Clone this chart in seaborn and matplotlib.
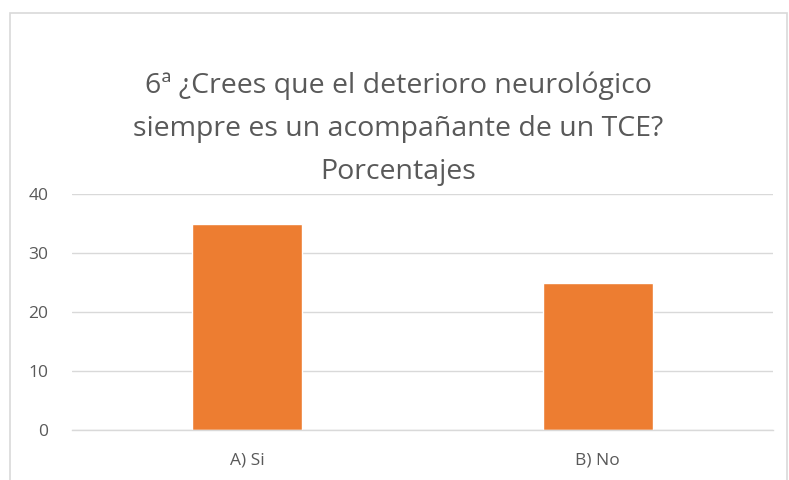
import matplotlib
matplotlib.use("Agg")
import matplotlib.pyplot as plt
import seaborn as sns
import pandas as pd
from matplotlib.patches import Rectangle

# Data
categories = ["A) Si", "B) No"]
values = [35, 25]
title_lines = [
    "6ª ¿Crees que el deterioro neurológico",
    "siempre es un acompañante de un TCE?",
    "Porcentajes",
]

sns.set_style("white")
plt.rcParams["font.family"] = ["Open Sans", "DejaVu Sans"]

text_color = "#595959"
grid_color = "#D9D9D9"
bar_color = "#ED7D31"

W, H = 789, 480
fig = plt.figure(figsize=(W / 100, H / 100), dpi=100)

# axes placement in pixels: x 72..773, y 194..430
ax = fig.add_axes([72 / W, 1 - 430 / H, (773 - 72) / W, (430 - 194) / H])

df = pd.DataFrame({"category": categories, "value": values})
sns.barplot(data=df, x="category", y="value", color=bar_color,
            width=110 / 350, saturation=1, ax=ax)

ax.set_xlim(-0.5, 1.5)
ax.set_ylim(0, 40)
ax.set_yticks([0, 10, 20, 30, 40])
ax.yaxis.grid(True, color=grid_color, linewidth=1)
ax.set_axisbelow(True)
for side in ["top", "right", "left"]:
    ax.spines[side].set_visible(False)
ax.spines["bottom"].set_color(grid_color)
ax.spines["bottom"].set_linewidth(1)
ax.tick_params(axis="both", length=0, labelsize=12.5, labelcolor=text_color)
ax.tick_params(axis="y", pad=17)
ax.tick_params(axis="x", pad=16)
ax.set_xlabel("")
ax.set_ylabel("")

# title
for i, line in enumerate(title_lines):
    fig.text(398 / W, 1 - (86 + 43 * i) / H, line, ha="center", va="center",
             fontsize=20.5, color=text_color)

# chart border (bottom edge falls outside the image)
fig.patches.append(Rectangle((10 / W, -0.05), (787 - 10) / W, 1.05 - 13 / H,
                             transform=fig.transFigure, fill=False,
                             edgecolor="#D9D9D9", linewidth=1.2))

fig.savefig("out.png", dpi=100)
